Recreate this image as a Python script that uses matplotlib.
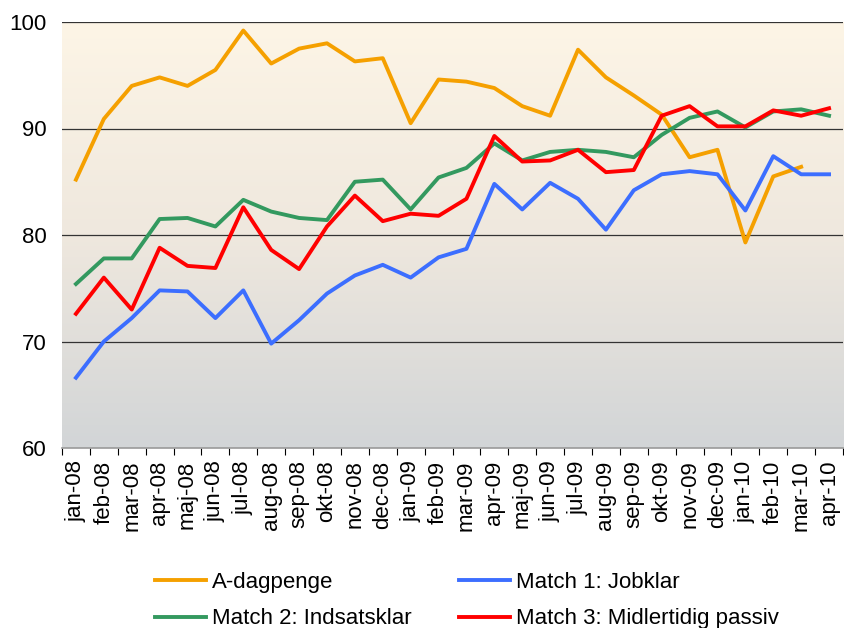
import numpy as np
import matplotlib
matplotlib.use("Agg")
import matplotlib.pyplot as plt
from matplotlib.colors import LinearSegmentedColormap

plt.rcParams['font.family'] = ['Liberation Sans', 'DejaVu Sans']

months = ["jan-08", "feb-08", "mar-08", "apr-08", "maj-08", "jun-08", "jul-08",
          "aug-08", "sep-08", "okt-08", "nov-08", "dec-08", "jan-09", "feb-09",
          "mar-09", "apr-09", "maj-09", "jun-09", "jul-09", "aug-09", "sep-09",
          "okt-09", "nov-09", "dec-09", "jan-10", "feb-10", "mar-10", "apr-10"]

a_dagpenge = [85.2, 90.9, 94.0, 94.8, 94.0, 95.5, 99.2, 96.1, 97.5, 98.0, 96.3, 96.6,
              90.5, 94.6, 94.4, 93.8, 92.1, 91.2, 97.4, 94.8, 93.1, 91.3, 87.3, 88.0,
              79.3, 85.5, 86.4, np.nan]
match1 = [66.6, 70.0, 72.2, 74.8, 74.7, 72.2, 74.8, 69.8, 72.0, 74.5, 76.2, 77.2,
          76.0, 77.9, 78.7, 84.8, 82.4, 84.9, 83.4, 80.5, 84.2, 85.7, 86.0, 85.7,
          82.3, 87.4, 85.7, 85.7]
match2 = [75.4, 77.8, 77.8, 81.5, 81.6, 80.8, 83.3, 82.2, 81.6, 81.4, 85.0, 85.2,
          82.4, 85.4, 86.3, 88.6, 87.0, 87.8, 88.0, 87.8, 87.3, 89.4, 91.0, 91.6,
          90.1, 91.6, 91.8, 91.2]
match3 = [72.6, 76.0, 73.0, 78.8, 77.1, 76.9, 82.6, 78.6, 76.8, 80.8, 83.7, 81.3,
          82.0, 81.8, 83.4, 89.3, 86.9, 87.0, 88.0, 85.9, 86.1, 91.2, 92.1, 90.2,
          90.2, 91.7, 91.2, 91.9]

fig = plt.figure(figsize=(8.44, 6.28), dpi=100)
ax = fig.add_axes([62 / 844, 1 - 448 / 628, 781 / 844, 426 / 628])

# baggrund med gradient (creme foroven, grå forneden)
cmap = LinearSegmentedColormap.from_list("bg", ["#FDF5E6", "#EFE8DE", "#D2D5D7"])
grad = np.linspace(0, 1, 256).reshape(-1, 1)
ax.imshow(grad, aspect='auto', cmap=cmap, extent=(-0.5, len(months) - 0.5, 60, 100),
          origin='upper', zorder=0)

x = np.arange(len(months))
l0, = ax.plot(x, a_dagpenge, color='#F5A000', lw=2.8, label='A-dagpenge', zorder=3)
l1, = ax.plot(x, match1, color='#3C6EFF', lw=2.8, label='Match 1: Jobklar', zorder=3)
l2, = ax.plot(x, match2, color='#33995F', lw=2.8, label='Match 2: Indsatsklar', zorder=3)
l3, = ax.plot(x, match3, color='#FF0000', lw=2.8, label='Match 3: Midlertidig passiv', zorder=3)

ax.set_xlim(-0.5, len(months) - 0.5)
ax.set_ylim(60, 100)
for v in [70, 80, 90, 100]:
    ax.axhline(v, color='#333333', lw=0.9, zorder=1)

for s in ['left', 'right', 'top']:
    ax.spines[s].set_visible(False)
ax.spines['bottom'].set_color('#999999')
ax.spines['bottom'].set_linewidth(1.2)

ax.set_yticks([60, 70, 80, 90, 100])
ax.tick_params(axis='y', length=0, labelsize=16, pad=11)
ax.set_xticks(x)
ax.set_xticklabels(months, rotation=90, fontsize=16)
ax.tick_params(axis='x', length=0, pad=9)
ax.set_xticks(np.arange(len(months) + 1) - 0.5, minor=True)
ax.tick_params(axis='x', which='minor', length=5, color='#000000', width=0.8)

# rækkevis rækkefølge i to kolonner
handles = [l0, l2, l1, l3]
fig.legend(handles, [h.get_label() for h in handles], ncol=2, loc='lower left',
           bbox_to_anchor=(135 / 844, -0.034), frameon=False, fontsize=16,
           handlelength=2.3, columnspacing=2.15, labelspacing=0.7, handletextpad=0.25)

fig.savefig("out.png", dpi=100)
